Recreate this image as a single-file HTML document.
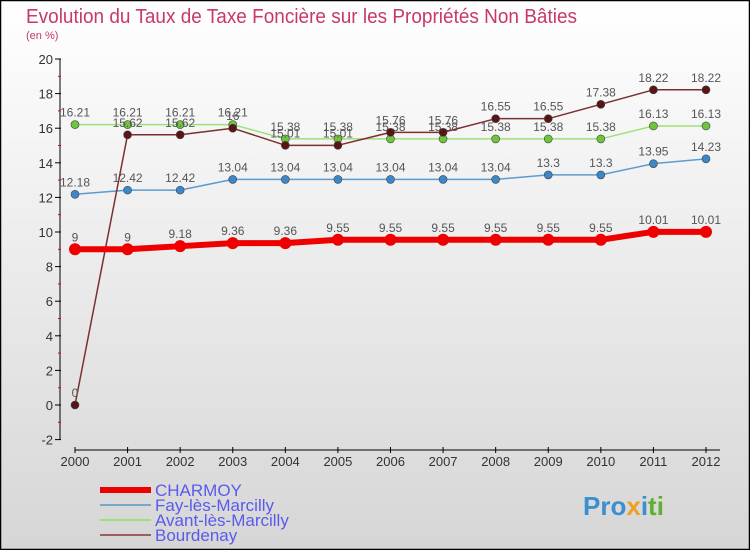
<!DOCTYPE html>
<html><head><meta charset="utf-8"><style>
body{margin:0}svg{display:block;font-family:"Liberation Sans",sans-serif}
</style></head><body>
<svg id="c" width="750" height="550" viewBox="0 0 750 550">
<defs><linearGradient id="bg" x1="0" y1="0" x2="0" y2="1"><stop offset="0" stop-color="#ffffff"/><stop offset="1" stop-color="#d6d6d6"/></linearGradient></defs>
<rect x="0.5" y="0.5" width="749" height="549" fill="url(#bg)" stroke="#000" stroke-width="1.5"/>
<text x="26" y="23" font-size="20" fill="#c8386a" textLength="551" lengthAdjust="spacingAndGlyphs">Evolution du Taux de Taxe Foncière sur les Propriétés Non Bâties</text>
<text x="26" y="39" font-size="11" fill="#c8386a">(en %)</text>
<g id="axes"></g><g id="series"></g><g id="legend"></g>
<text x="583" y="515" font-size="26" font-weight="bold" fill="#3a8fd0">Pro<tspan fill="#f0a020">x</tspan><tspan fill="#3a8fd0">i</tspan><tspan fill="#60b030">ti</tspan></text>
</svg>
<script>
const years=[2000,2001,2002,2003,2004,2005,2006,2007,2008,2009,2010,2011,2012];
const yTicks=[-2,0,2,4,6,8,10,12,14,16,18,20];
const charmoy=[9,9,9.18,9.36,9.36,9.55,9.55,9.55,9.55,9.55,9.55,10.01,10.01];
const fay=[12.18,12.42,12.42,13.04,13.04,13.04,13.04,13.04,13.04,13.3,13.3,13.95,14.23];
const avant=[16.21,16.21,16.21,16.21,15.38,15.38,15.38,15.38,15.38,15.38,15.38,16.13,16.13];
const bourdenay=[0,15.62,15.62,16,15.01,15.01,15.76,15.76,16.55,16.55,17.38,18.22,18.22];
const names=["CHARMOY","Fay-lès-Marcilly","Avant-lès-Marcilly","Bourdenay"];
const NS="http://www.w3.org/2000/svg";
const X=i=>75+i*(706-75)/(years.length-1);
const Y=v=>405-v*17.3;
function mk(p,t,a){const e=document.createElementNS(NS,t);for(const k in a)e.setAttribute(k,a[k]);p.appendChild(e);return e;}
const ax=document.getElementById('axes');
let l=mk(ax,'line',{x1:60,y1:Y(20),x2:60,y2:Y(-2),stroke:'#000'});


yTicks.forEach(v=>{
 let t=mk(ax,'line',{x1:55,y1:Y(v),x2:61,y2:Y(v),stroke:'#000'});
 
 
 if(v<20){
 let m=mk(ax,'line',{x1:58,y1:Y(v+1),x2:61,y2:Y(v+1),stroke:'#e00'});
 
 
 }
 let tx=mk(ax,'text',{x:53,y:Y(v)+5,'font-size':13,fill:'#333','text-anchor':'end'});
 tx.textContent=v;
 
 
});
let xa=mk(ax,'line',{x1:75,y1:450,x2:720,y2:450,stroke:'#000'});


years.forEach((y,i)=>{
 let t=mk(ax,'line',{x1:X(i),y1:447,x2:X(i),y2:453,stroke:'#000'});
 
 
 let tx=mk(ax,'text',{x:X(i),y:466,'font-size':13,fill:'#333','text-anchor':'middle'});
 tx.textContent=y;
 
 
});
const sg=document.getElementById('series');
const defs=[[fay,'#5b9bd0','#3b87c8',1.5,4],[avant,'#9ee07a','#6cc63c',1.5,4],[bourdenay,'#7a3030','#5a1414',1.5,4],[charmoy,'#ee0000','#ee0000',6,6]];
const keys=['fay-les-marcilly','avant-les-marcilly','bourdenay','charmoy'];
defs.forEach(([d,c,mc,w,r],k)=>{
 let g=mk(sg,'g',{});
 
 
 let p=mk(g,'polyline',{points:d.map((v,i)=>X(i)+','+Y(v)).join(' '),fill:'none',stroke:c,'stroke-width':w,'stroke-linejoin':'round'});
 
 
 d.forEach((v,i)=>{
  let cc=mk(g,'circle',{cx:X(i),cy:Y(v),r:r,fill:mc,stroke:'#444','stroke-width':k==3?0:0.6});
  
  
  let t=mk(g,'text',{x:X(i),y:Y(v)-8,'font-size':12,fill:'#555','text-anchor':'middle'});
  t.textContent=v;
  
  
 });
});
const lg=document.getElementById('legend');
const lc=['#ee0000','#7aa8c8','#9ee07a','#9a6060'],lw=[6,2,2,2];
names.forEach((n,i)=>{
 let y=492+i*15;
 let g=mk(lg,'g',{});
 
 
 let s=mk(g,'line',{x1:100,y1:y-2,x2:151,y2:y-2,stroke:lc[i],'stroke-width':lw[i]});
 
 
 let t=mk(g,'text',{x:155,y:y+4,'font-size':17,fill:'#5a5aee'});
 t.textContent=n;
 
 
});
</script>
</body></html>
